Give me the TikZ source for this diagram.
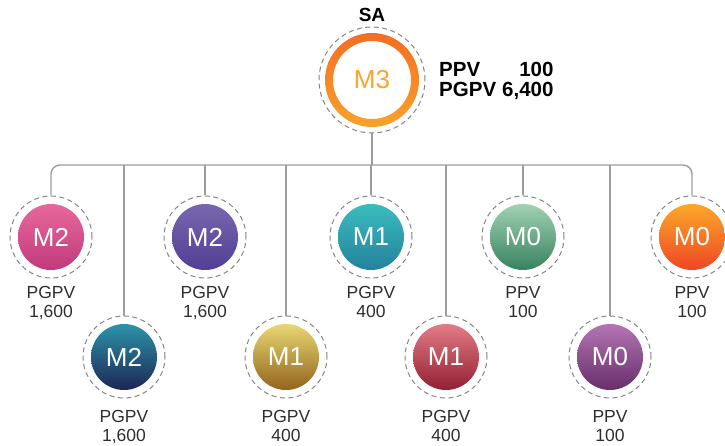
\documentclass[tikz,border=0pt]{standalone}
\usepackage{fontspec}
\setmainfont{Liberation Sans}
\definecolor{linegray}{HTML}{9C9C9C}
\definecolor{dashgray}{HTML}{858585}
\definecolor{textgray}{HTML}{2E2E2E}
\definecolor{ringtop}{HTML}{F26A24}
\definecolor{ringbot}{HTML}{F9A62B}
\definecolor{pinkA}{HTML}{EC6E9E}
\definecolor{pinkB}{HTML}{BC3479}
\definecolor{violetA}{HTML}{7D6CB2}
\definecolor{violetB}{HTML}{4C3A91}
\definecolor{navyA}{HTML}{2F9FB3}
\definecolor{navyB}{HTML}{1A1A4C}
\definecolor{goldA}{HTML}{F3E47E}
\definecolor{goldB}{HTML}{885612}
\definecolor{tealA}{HTML}{3FC3C2}
\definecolor{tealB}{HTML}{1F7B98}
\definecolor{redA}{HTML}{EC8790}
\definecolor{redB}{HTML}{891529}
\definecolor{greenA}{HTML}{ADDBBC}
\definecolor{greenB}{HTML}{2B7856}
\definecolor{plumA}{HTML}{BD7DBC}
\definecolor{plumB}{HTML}{5D2762}
\definecolor{orangeA}{HTML}{FDB42A}
\definecolor{orangeB}{HTML}{EE3A24}

\begin{document}
\begin{tikzpicture}[x=1pt, y=-1pt,
every node/.style = {inner sep=0pt},
    member/.style 2 args = {circle, minimum size=82pt,
                     draw=dashgray, dash pattern=on 5pt off 3.5pt, line width=1pt,
                     text=white, font=\fontsize{26}{26}\selectfont,
                     path picture={\shade[top color=#1, bottom color=#2]
                        (path picture bounding box.center) circle (33pt);}},
      head/.style = {circle, minimum size=106pt,
                     draw=dashgray, dash pattern=on 5pt off 3.5pt, line width=1pt,
                     text=ringbot, font=\fontsize{26}{26}\selectfont,
                     path picture={\shade[top color=ringtop, bottom color=ringbot, even odd rule]
                        (path picture bounding box.center) circle (47pt)
                        (path picture bounding box.center) circle (39pt);}},
       lbl/.style = {text=textgray, align=center,
                     font=\fontsize{17.5}{19}\selectfont},
      link/.style = {draw=linegray, line width=1.4pt}
                        ]
\useasboundingbox (0,0) rectangle (725,446);
%
\node (M3) [head, label={[font=\bfseries\fontsize{19}{19}\selectfont, label distance=5pt]above:SA}]
      at (372,80) {M3};
\node (pv) [anchor=west, text=black, font=\bfseries\fontsize{20.5}{19}\selectfont] at (439,82)
      {\begin{tabular}{@{}l@{\hspace{6pt}}r@{}}PPV & 100\\ PGPV & 6,400\end{tabular}};
\coordinate (bus) at (372,165);
% first row
\node (a1) [member={pinkA}{pinkB},
      label={[lbl, label distance=8pt]below:{PGPV\\1,600}}] at (51,237) {M2};
\node (a2) [member={violetA}{violetB},
      label={[lbl, label distance=8pt]below:{PGPV\\1,600}}] at (205,237) {M2};
\node (a3) [member={tealA}{tealB},
      label={[lbl, label distance=8pt]below:{PGPV\\400}}] at (371,237) {M1};
\node (a4) [member={greenA}{greenB},
      label={[lbl, label distance=8pt]below:{PPV\\100}}] at (523,237) {M0};
\node (a5) [member={orangeA}{orangeB},
      label={[lbl, label distance=8pt]below:{PPV\\100}}] at (692,237) {M0};
% second row
\node (b1) [member={navyA}{navyB},
      label={[lbl, label distance=12pt]below:{PGPV\\1,600}}] at (124,357) {M2};
\node (b2) [member={goldA}{goldB},
      label={[lbl, label distance=12pt]below:{PGPV\\400}}] at (286,357) {M1};
\node (b3) [member={redA}{redB},
      label={[lbl, label distance=12pt]below:{PGPV\\400}}] at (446,357) {M1};
\node (b4) [member={plumA}{plumB},
      label={[lbl, label distance=12pt]below:{PPV\\100}}] at (610,357) {M0};
%
\draw[link] (M3) -- (bus);
\draw[link, rounded corners=9pt] (a1.north) -- (a1.north |- bus) -- (a5.north |- bus) -- (a5.north);
\draw[link] (a2.north) -- (a2.north |- bus);
\draw[link] (a3.north) -- (a3.north |- bus);
\draw[link] (a4.north) -- (a4.north |- bus);
\draw[link] (b1.north) -- (b1.north |- bus);
\draw[link] (b2.north) -- (b2.north |- bus);
\draw[link] (b3.north) -- (b3.north |- bus);
\draw[link] (b4.north) -- (b4.north |- bus);
\end{tikzpicture}
\end{document}
